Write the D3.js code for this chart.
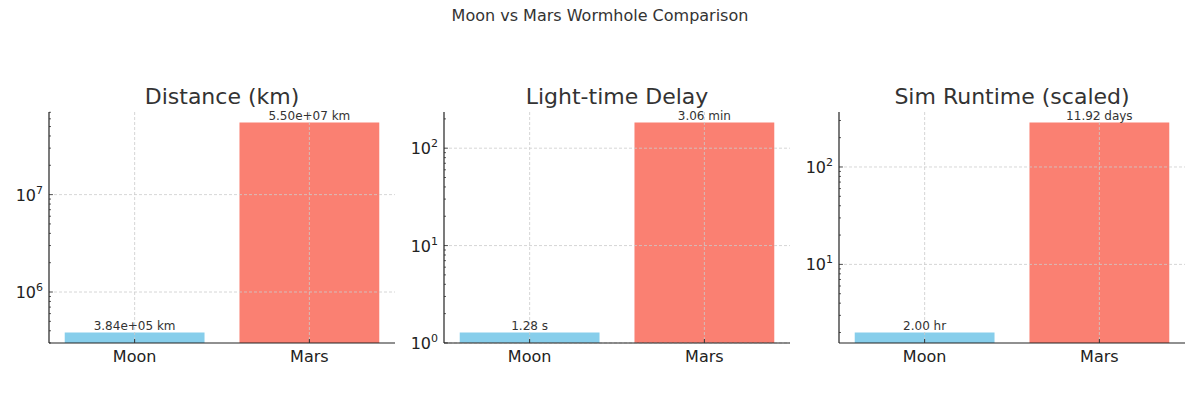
<!DOCTYPE html>
<html><head><meta charset="utf-8">
<script src="https://cdn.jsdelivr.net/npm/d3@7"></script>
<style>body{margin:0;background:#fff;font-family:"DejaVu Sans",sans-serif}</style>
</head><body><div id="chart"></div>
<script>
// data
var planets = ["Moon", "Mars"]
var titles = ["Distance (km)", "Light-time Delay", "Sim Runtime (scaled)"]
var distanceKm = [3.84e5, 5.50e7]
var delaySec = [1.28, 183.6]
var runtimeHr = [2.00, 286.08]
var labelsDistance = ["3.84e+05 km", "5.50e+07 km"]
var labelsDelay = ["1.28 s", "3.06 min"]
var labelsRuntime = ["2.00 hr", "11.92 days"]
var colors = ["#87CEEB", "#FA8072"]

var panels = [
  {title: titles[0], values: distanceKm, labels: labelsDistance},
  {title: titles[1], values: delaySec, labels: labelsDelay},
  {title: titles[2], values: runtimeHr, labels: labelsRuntime}
]

var svg = d3.select("#chart").append("svg").attr("width", 1200).attr("height", 400)

svg.append("text").attr("x", 600).attr("y", 21).attr("text-anchor", "middle")
  .style("font-size", "16px").style("fill", "#333").text("Moon vs Mars Wormhole Comparison")

var lefts = [49, 444, 839], topY = 112, width = 346, height = 231

panels.forEach(function(p, i){
  var g = svg.append("g").attr("transform", "translate(" + lefts[i] + "," + topY + ")")

  // x: bars of width 0.8 at 0 and 1, 5% margin
  var x = d3.scaleLinear().domain([-0.49, 1.49]).range([0, width])
  var lo = Math.log10(d3.min(p.values)), hi = Math.log10(d3.max(p.values))
  var m = (hi - lo) * 0.05
  var y = d3.scaleLog().domain([Math.pow(10, lo - m), Math.pow(10, hi + m)]).range([height, 0])

  // bars
  g.selectAll("rect").data(p.values).enter().append("rect")
    .attr("x", function(d, j){ return x(j - 0.4) })
    .attr("width", x(0.8) - x(0))
    .attr("y", function(d){ return y(d) })
    .attr("height", function(d){ return height - y(d) })
    .attr("fill", function(d, j){ return colors[j] })

  // grid (drawn over bars)
  var majors = y.ticks().filter(function(t){ return Math.abs(Math.log10(t) - Math.round(Math.log10(t))) < 1e-9 })
  g.selectAll(".hg").data(majors).enter().append("line")
    .attr("x1", 0).attr("x2", width).attr("y1", function(d){ return y(d) }).attr("y2", function(d){ return y(d) })
    .attr("stroke", "#ccc").attr("stroke-dasharray", "3,2").attr("stroke-width", 0.8)
  g.selectAll(".vg").data([0, 1]).enter().append("line")
    .attr("x1", function(d){ return x(d) }).attr("x2", function(d){ return x(d) }).attr("y1", 0).attr("y2", height)
    .attr("stroke", "#ccc").attr("stroke-dasharray", "3,2").attr("stroke-width", 0.8)

  // value labels
  g.selectAll(".vl").data(p.values).enter().append("text")
    .attr("x", function(d, j){ return x(j) }).attr("y", function(d){ return y(d) - 3 })
    .attr("text-anchor", "middle").style("font-size", "12px").style("fill", "#333")
    .text(function(d, j){ return p.labels[j] })

  // y axis: ticks inward, minor ticks
  var allTicks = y.ticks()
  g.selectAll(".yt").data(allTicks).enter().append("line")
    .attr("x1", 0).attr("y1", function(d){ return y(d) }).attr("y2", function(d){ return y(d) })
    .attr("x2", function(d){ return majors.indexOf(d) >= 0 ? 4 : 2 })
    .attr("stroke", "#333").attr("stroke-width", 0.8)
  g.selectAll(".yl").data(majors).enter().append("text")
    .attr("x", -6).attr("y", function(d){ return y(d) + 6 }).attr("text-anchor", "end")
    .style("font-size", "16px").style("fill", "#222")
    .each(function(d){
      var t = d3.select(this)
      t.append("tspan").text("10")
      t.append("tspan").attr("dy", -7).style("font-size", "11px").text(Math.round(Math.log10(d)))
    })
  g.append("line").attr("x1", 0).attr("x2", 0).attr("y1", 0).attr("y2", height).attr("stroke", "#222").attr("stroke-width", 1.2)
  g.append("line").attr("x1", 0).attr("x2", width).attr("y1", height).attr("y2", height).attr("stroke", "#222").attr("stroke-width", 1.2)

  // x axis labels & ticks
  g.selectAll(".xt").data(planets).enter().append("line")
    .attr("x1", function(d, j){ return x(j) }).attr("x2", function(d, j){ return x(j) })
    .attr("y1", height).attr("y2", height - 4).attr("stroke", "#333")
  g.selectAll(".xl").data(planets).enter().append("text")
    .attr("x", function(d, j){ return x(j) }).attr("y", height + 19).attr("text-anchor", "middle")
    .style("font-size", "16px").style("fill", "#222").text(function(d){ return d })

  g.append("text").attr("x", width / 2).attr("y", -8).attr("text-anchor", "middle")
    .style("font-size", "22px").style("fill", "#333").text(p.title)
})
</script></body></html>
